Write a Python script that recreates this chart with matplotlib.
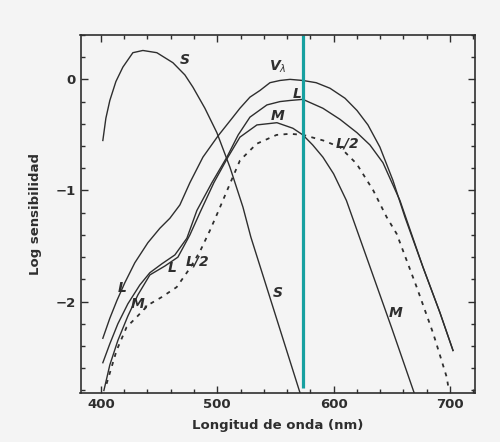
import numpy as np
import matplotlib
matplotlib.use("Agg")
import matplotlib.pyplot as plt
from matplotlib.ticker import MultipleLocator

# ── Datos (longitud de onda nm, log sensibilidad) ──────────────────────────
s_nm  = [401.7, 404.3, 407.7, 412.9, 418.9, 427.5, 436.1, 448.1, 461.9,
         472.2, 479.1, 489.4, 499.7, 510.9, 522.1, 528.9, 571.1]
s_log = [-0.55, -0.35, -0.19, -0.02, 0.11, 0.24, 0.26, 0.24, 0.15,
         0.04, -0.07, -0.26, -0.48, -0.79, -1.15, -1.42, -2.82]

v_nm  = [401.7, 407.7, 413.8, 420.6, 429.2, 440.4, 450.7, 459.3, 467.9,
         476.5, 487.7, 500.6, 513.5, 519.5, 528.1, 536.7, 545.3, 553.9,
         562.5, 573.6, 585.0, 596.9, 609.8, 620.1, 629.5, 639.8, 651.0,
         661.3, 676.8, 691.4, 702.6]
v_log = [-2.33, -2.15, -1.99, -1.83, -1.65, -1.47, -1.34, -1.25, -1.13,
         -0.93, -0.70, -0.51, -0.34, -0.26, -0.16, -0.10, -0.03, -0.01,
         0.00, -0.01, -0.03, -0.08, -0.17, -0.28, -0.41, -0.61, -0.91,
         -1.24, -1.69, -2.10, -2.44]

l_nm  = [401.7, 407.7, 414.6, 423.2, 433.5, 442.1, 452.4, 463.6, 473.9,
         482.5, 495.4, 508.3, 518.0, 528.1, 542.7, 553.9, 562.5, 573.6,
         590.8, 605.5, 620.1, 631.2, 642.4, 648.4, 657.0, 676.8, 691.4,
         702.6]
l_log = [-2.55, -2.38, -2.20, -2.02, -1.85, -1.74, -1.66, -1.58, -1.43,
         -1.18, -0.93, -0.70, -0.50, -0.34, -0.23, -0.20, -0.19, -0.18,
         -0.26, -0.36, -0.48, -0.59, -0.75, -0.89, -1.09, -1.69, -2.10,
         -2.44]

m_nm  = [402.6, 407.7, 414.6, 423.2, 431.8, 442.1, 455.0, 466.2, 476.5,
         485.1, 497.1, 509.2, 519.5, 534.1, 551.3, 565.0, 573.6, 582.0,
         590.8, 600.0, 611.0, 630.0, 650.0, 669.5]
m_log = [-2.80, -2.57, -2.35, -2.13, -1.94, -1.76, -1.68, -1.60, -1.40,
         -1.20, -0.93, -0.70, -0.52, -0.41, -0.39, -0.44, -0.50, -0.59,
         -0.70, -0.85, -1.09, -1.65, -2.24, -2.83]

l2_nm  = [404.9, 413.5, 422.1, 430.7, 440.7, 452.2, 465.1, 476.5, 485.1,
          493.7, 500.8, 510.9, 519.5, 533.8, 551.0, 562.5, 573.9, 591.1,
          605.5, 619.8, 634.1, 645.6, 654.2, 671.4, 685.7, 697.2, 698.6]
l2_log = [-2.74, -2.44, -2.23, -2.14, -2.03, -1.96, -1.87, -1.70, -1.55,
          -1.36, -1.19, -0.94, -0.73, -0.58, -0.50, -0.49, -0.50, -0.55,
          -0.61, -0.76, -1.00, -1.24, -1.39, -1.87, -2.29, -2.68, -2.77]

marca_nm = 574   # línea vertical

# etiquetas de curvas: (texto, nm, log)
etiquetas = [
    ("S", 472, 0.17), ("S", 552, -1.92),
    ("V$_\\lambda$", 552, 0.11), ("L", 569, -0.13), ("M", 552, -0.33),
    ("L/2", 612, -0.58), ("M", 653, -2.10),
    ("L", 418, -1.88), ("M,", 433.5, -2.02), ("L", 461, -1.70),
    ("L/2", 483.4, -1.64),
]

# ── Figura ─────────────────────────────────────────────────────────────────
fondo = "#f4f4f4"
tinta = "#2e2e2e"
fig = plt.figure(figsize=(5.0, 4.42), dpi=100, facecolor=fondo)
ax = fig.add_axes([0.161, 0.1115, 0.789, 0.8095], facecolor=fondo)

kw = dict(color=tinta, lw=1.0)
ax.plot(s_nm, s_log, **kw)
ax.plot(v_nm, v_log, **kw)
ax.plot(l_nm, l_log, **kw)
ax.plot(m_nm, m_log, **kw)
ax.plot(l2_nm, l2_log, color=tinta, lw=1.3, ls=(0, (2.2, 3.0)))

ax.plot([marca_nm, marca_nm], [-2.78, 0.40], color="#17a0a0", lw=2.3,
        solid_capstyle="butt")

for txt, x, y in etiquetas:
    ax.text(x, y, txt, fontsize=10, fontweight="bold", fontstyle="italic",
            color=tinta, ha="center", va="center")

ax.set_xlim(382.5, 721.5)
ax.set_ylim(-2.82, 0.40)
ax.set_xticks([400, 500, 600, 700])
ax.set_yticks([0, -1, -2])
ax.set_yticklabels(["0", "\u22121", "\u22122"])
ax.xaxis.set_minor_locator(MultipleLocator(20))
ax.yaxis.set_minor_locator(MultipleLocator(0.2))
ax.tick_params(which="both", direction="in", top=True, right=True,
               color=tinta, width=1.0)
ax.tick_params(which="major", length=5, labelsize=9.5, labelcolor=tinta)
ax.tick_params(which="minor", length=3)
for lab in ax.get_xticklabels() + ax.get_yticklabels():
    lab.set_fontweight("bold")
for sp in ax.spines.values():
    sp.set_color(tinta)
    sp.set_linewidth(1.2)

ax.set_xlabel("Longitud de onda (nm)", fontsize=9.5, fontweight="bold",
              color=tinta, labelpad=6)
ax.set_ylabel("Log sensibilidad", fontsize=9.5, fontweight="bold",
              color=tinta, labelpad=10)

fig.savefig("out.png", dpi=100, facecolor=fondo)
